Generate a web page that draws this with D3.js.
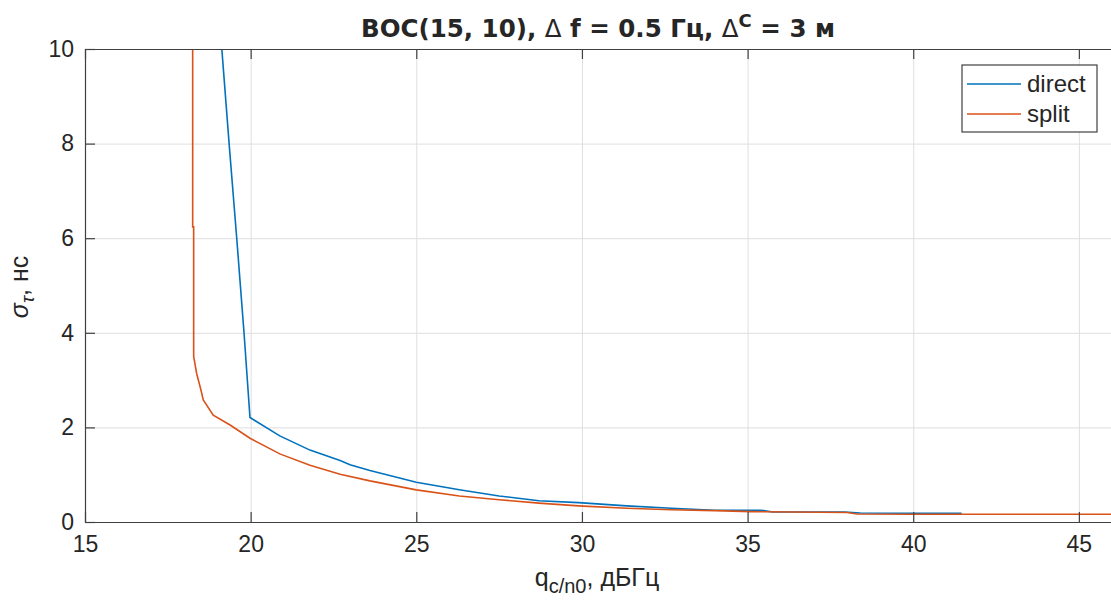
<!DOCTYPE html>
<html>
<head>
<meta charset="utf-8">
<script src="https://cdn.jsdelivr.net/npm/d3@7"></script>
<style>
  body { margin: 0; background: #fff; }
  text { font-family: "Liberation Sans", Arial, sans-serif; fill: #262626; }
</style>
</head>
<body>
<div id="plot"></div>
<script>
// direct series
let directX = [19.13, 19.35, 19.58, 19.80, 19.98, 20.88, 21.79, 22.7, 23.0, 23.6, 25.0, 26.3, 27.5, 28.7, 29.9, 31.35, 32.7, 34.0, 35.4, 35.76, 37.93, 38.4, 40.05, 41.46];
let directY = [10, 8, 6, 4, 2.21, 1.82, 1.52, 1.30, 1.21, 1.09, 0.84, 0.68, 0.55, 0.45, 0.41, 0.34, 0.29, 0.25, 0.25, 0.21, 0.21, 0.19, 0.184, 0.184];
// split series
let splitX = [18.25, 18.25, 18.28, 18.28, 18.37, 18.5, 18.57, 18.87, 19.38, 19.98, 20.88, 21.79, 22.7, 23.6, 25.0, 26.3, 27.5, 28.7, 29.9, 31.35, 32.7, 34.0, 35.1, 38.0, 38.3, 40.0, 46.0];
let splitY = [10, 6.24, 6.24, 3.5, 3.14, 2.79, 2.58, 2.26, 2.05, 1.77, 1.44, 1.20, 1.01, 0.87, 0.68, 0.55, 0.47, 0.40, 0.34, 0.29, 0.26, 0.24, 0.22, 0.20, 0.17, 0.163, 0.163];

let xTicks = [15, 20, 25, 30, 35, 40, 45];
let yTicks = [0, 2, 4, 6, 8, 10];
let seriesNames = ['direct', 'split'];
let seriesColors = ['#0072BD', '#D95319'];

let width = 1111, height = 602;
let plotL = 85, plotT = 49, plotR = 1112, plotB = 522;

let svg = d3.select('#plot').append('svg').attr('width', width).attr('height', height);

let x = d3.scaleLinear().domain([15, 46]).range([plotL, plotR]);
let y = d3.scaleLinear().domain([0, 10]).range([plotB, plotT]);

// grid
svg.append('g').attr('transform', `translate(0,${plotB})`)
  .call(d3.axisBottom(x).tickValues(xTicks).tickSize(-(plotB - plotT)).tickFormat(''))
  .call(g => g.select('.domain').remove())
  .selectAll('line').attr('stroke', '#dfdfdf').attr('stroke-width', 1);
svg.append('g').attr('transform', `translate(${plotL},0)`)
  .call(d3.axisLeft(y).tickValues(yTicks).tickSize(-(plotR - plotL)).tickFormat(''))
  .call(g => g.select('.domain').remove())
  .selectAll('line').attr('stroke', '#dfdfdf').attr('stroke-width', 1);

// lines
svg.append('clipPath').attr('id', 'clip').append('rect')
  .attr('x', plotL).attr('y', plotT).attr('width', plotR - plotL).attr('height', plotB - plotT);

let line = d3.line().x(d => x(d[0])).y(d => y(d[1]));
let series = [d3.zip(directX, directY), d3.zip(splitX, splitY)];
svg.append('g').attr('clip-path', 'url(#clip)')
  .selectAll('path').data(series).enter().append('path')
  .attr('d', d => line(d))
  .attr('fill', 'none')
  .attr('stroke', (d, i) => seriesColors[i])
  .attr('stroke-width', 1.6);

// axes
let axisColor = '#404040';
function styleAxis(g) {
  g.select('.domain').attr('stroke', axisColor).attr('stroke-width', 1.2);
  g.selectAll('line').attr('stroke', axisColor).attr('stroke-width', 1.2);
  g.selectAll('text').style('font-size', '23px').attr('fill', '#262626');
}
svg.append('g').attr('transform', `translate(0,${plotB})`)
  .call(d3.axisBottom(x).tickValues(xTicks).tickSizeInner(-10).tickSizeOuter(0).tickPadding(14))
  .call(styleAxis);
svg.append('g').attr('transform', `translate(0,${plotT})`)
  .call(d3.axisTop(x).tickValues(xTicks).tickSizeInner(-10).tickSizeOuter(0).tickFormat(''))
  .call(styleAxis);
svg.append('g').attr('transform', `translate(${plotL},0)`)
  .call(d3.axisLeft(y).tickValues(yTicks).tickSizeInner(-10).tickSizeOuter(0).tickPadding(11))
  .call(styleAxis);

// title
let title = svg.append('text').attr('x', 598).attr('y', 37).attr('text-anchor', 'middle')
  .style('font-family', '"DejaVu Sans", sans-serif')
  .style('font-size', '24.5px').style('font-weight', 'bold').attr('fill', '#000');
title.append('tspan').text('BOC(15, 10), ');
title.append('tspan').style('font-weight', 'normal').text('\u0394');
title.append('tspan').text(' f = 0.5 \u0413\u0446, ');
title.append('tspan').style('font-weight', 'normal').text('\u0394');
title.append('tspan').attr('dy', -10).style('font-size', '18px').text('C');
title.append('tspan').attr('dy', 10).text(' = 3 \u043c');

// x label
let xl = svg.append('text').attr('x', 597).attr('y', 586).attr('text-anchor', 'middle').style('font-size', '25px');
xl.append('tspan').text('q');
xl.append('tspan').attr('dy', 7).style('font-size', '20px').text('c/n0');
xl.append('tspan').attr('dy', -7).text(', \u0434\u0411\u0413\u0446');

// y label
let yl = svg.append('text').attr('transform', 'translate(28,287) rotate(-90)').attr('text-anchor', 'middle').style('font-size', '25px');
yl.append('tspan').style('font-style', 'italic').text('\u03c3');
yl.append('tspan').attr('dy', 6).style('font-size', '19px').style('font-style', 'italic').text('\u03c4');
yl.append('tspan').attr('dy', -6).text(', \u043d\u0441');

// legend
let legend = svg.append('g');
legend.append('rect').attr('x', 962).attr('y', 65).attr('width', 135).attr('height', 67)
  .attr('fill', '#fff').attr('stroke', axisColor).attr('stroke-width', 1.2);
seriesNames.forEach((name, i) => {
  let cy = 84 + i * 30;
  legend.append('line').attr('x1', 967).attr('x2', 1021).attr('y1', cy).attr('y2', cy)
    .attr('stroke', seriesColors[i]).attr('stroke-width', 1.6);
  legend.append('text').attr('x', 1027).attr('y', cy + 8).style('font-size', '24px').text(name);
});
</script>
</body>
</html>
